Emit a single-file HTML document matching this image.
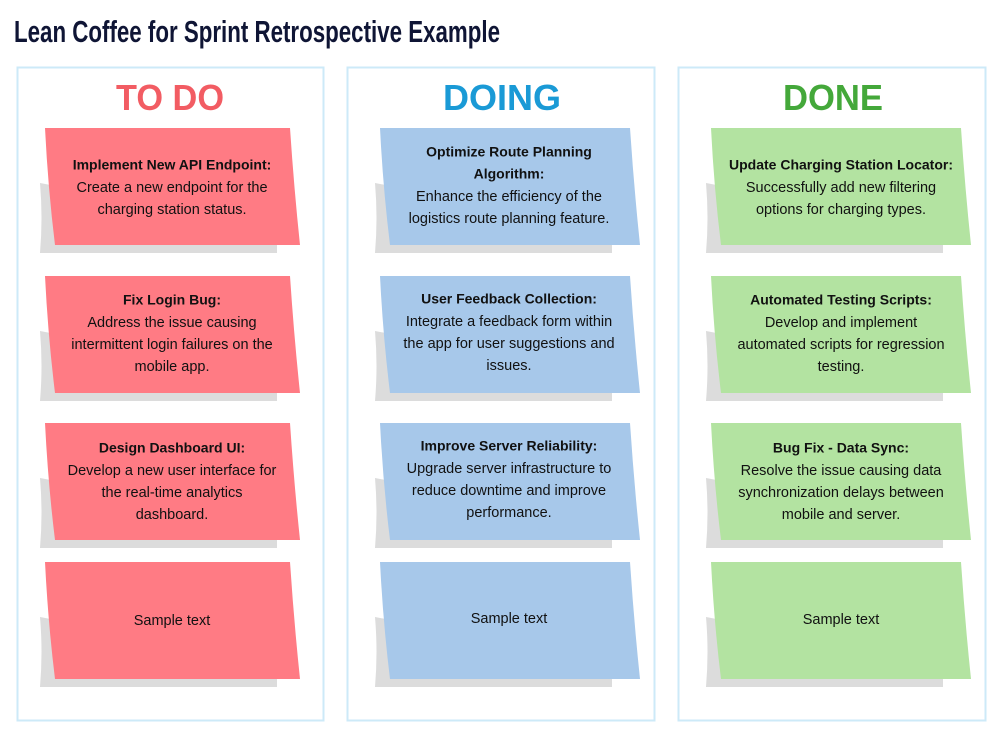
<!DOCTYPE html>
<html><head><meta charset="utf-8"><style>
html,body{margin:0;padding:0;background:#fff}
svg{display:block}
text{font-family:"Liberation Sans",sans-serif}
</style></head><body>
<svg width="1004" height="735" viewBox="0 0 1004 735" xmlns="http://www.w3.org/2000/svg">
<defs>
<g id="shadow"><path d="M-5,55 Q-2,90 -5,125 L232,125 L232,100 Z" fill="#dcdcdc"/></g>
</defs>
<text x="14" y="42" font-size="31" font-weight="bold" fill="#0f1535" textLength="486" lengthAdjust="spacingAndGlyphs">Lean Coffee for Sprint Retrospective Example</text>
<rect x="17.5" y="67.5" width="306" height="653" fill="none" stroke="#cdeaf8" stroke-width="2"/>
<rect x="347.5" y="67.5" width="307" height="653" fill="none" stroke="#cdeaf8" stroke-width="2"/>
<rect x="678.5" y="67.5" width="307" height="653" fill="none" stroke="#cdeaf8" stroke-width="2"/>
<text x="170" y="110" font-size="36" font-weight="bold" fill="#f25c63" text-anchor="middle" textLength="108" lengthAdjust="spacingAndGlyphs">TO DO</text>
<text x="502" y="110" font-size="36" font-weight="bold" fill="#1a9ad6" text-anchor="middle" textLength="118" lengthAdjust="spacingAndGlyphs">DOING</text>
<text x="833" y="110" font-size="36" font-weight="bold" fill="#44a83a" text-anchor="middle" textLength="100" lengthAdjust="spacingAndGlyphs">DONE</text>

<g id="notes">
</g>
<!-- column 1 -->
<g fill="#ff7b84">
<g transform="translate(45,128)"><use href="#shadow"/><path d="M0,0 L245,0 Q249,60 255,117 L10,117 Q3,60 0,0 Z"/></g>
<g transform="translate(45,276)"><use href="#shadow"/><path d="M0,0 L245,0 Q249,60 255,117 L10,117 Q3,60 0,0 Z"/></g>
<g transform="translate(45,423)"><use href="#shadow"/><path d="M0,0 L245,0 Q249,60 255,117 L10,117 Q3,60 0,0 Z"/></g>
<g transform="translate(45,562)"><use href="#shadow"/><path d="M0,0 L245,0 Q249,60 255,117 L10,117 Q3,60 0,0 Z"/></g>
</g>
<g fill="#a7c8ea">
<g transform="translate(380,128)"><use href="#shadow"/><path d="M0,0 L250,0 Q254,60 260,117 L10,117 Q3,60 0,0 Z"/></g>
<g transform="translate(380,276)"><use href="#shadow"/><path d="M0,0 L250,0 Q254,60 260,117 L10,117 Q3,60 0,0 Z"/></g>
<g transform="translate(380,423)"><use href="#shadow"/><path d="M0,0 L250,0 Q254,60 260,117 L10,117 Q3,60 0,0 Z"/></g>
<g transform="translate(380,562)"><use href="#shadow"/><path d="M0,0 L250,0 Q254,60 260,117 L10,117 Q3,60 0,0 Z"/></g>
</g>
<g fill="#b3e3a1">
<g transform="translate(711,128)"><use href="#shadow"/><path d="M0,0 L250,0 Q254,60 260,117 L10,117 Q3,60 0,0 Z"/></g>
<g transform="translate(711,276)"><use href="#shadow"/><path d="M0,0 L250,0 Q254,60 260,117 L10,117 Q3,60 0,0 Z"/></g>
<g transform="translate(711,423)"><use href="#shadow"/><path d="M0,0 L250,0 Q254,60 260,117 L10,117 Q3,60 0,0 Z"/></g>
<g transform="translate(711,562)"><use href="#shadow"/><path d="M0,0 L250,0 Q254,60 260,117 L10,117 Q3,60 0,0 Z"/></g>
</g>

<g font-size="14.5" fill="#111" text-anchor="middle" dominant-baseline="middle">
<text x="172" y="166" font-weight="bold" font-size="14">Implement New API Endpoint:</text>
<text x="172" y="188">Create a new endpoint for the</text>
<text x="172" y="210">charging station status.</text>
<text x="172" y="301" font-weight="bold" font-size="14">Fix Login Bug:</text>
<text x="172" y="323">Address the issue causing</text>
<text x="172" y="345">intermittent login failures on the</text>
<text x="172" y="367">mobile app.</text>
<text x="172" y="449" font-weight="bold" font-size="14">Design Dashboard UI:</text>
<text x="172" y="471">Develop a new user interface for</text>
<text x="172" y="493">the real-time analytics</text>
<text x="172" y="515">dashboard.</text>
<text x="172" y="621">Sample text</text>

<text x="509" y="153" font-weight="bold" font-size="14">Optimize Route Planning</text>
<text x="509" y="175" font-weight="bold" font-size="14">Algorithm:</text>
<text x="509" y="197">Enhance the efficiency of the</text>
<text x="509" y="219">logistics route planning feature.</text>
<text x="509" y="300" font-weight="bold" font-size="14">User Feedback Collection:</text>
<text x="509" y="322">Integrate a feedback form within</text>
<text x="509" y="344">the app for user suggestions and</text>
<text x="509" y="366">issues.</text>
<text x="509" y="447" font-weight="bold" font-size="14">Improve Server Reliability:</text>
<text x="509" y="469">Upgrade server infrastructure to</text>
<text x="509" y="491">reduce downtime and improve</text>
<text x="509" y="513">performance.</text>
<text x="509" y="619">Sample text</text>

<text x="841" y="166" font-weight="bold" font-size="14">Update Charging Station Locator:</text>
<text x="841" y="188">Successfully add new filtering</text>
<text x="841" y="210">options for charging types.</text>
<text x="841" y="301" font-weight="bold" font-size="14">Automated Testing Scripts:</text>
<text x="841" y="323">Develop and implement</text>
<text x="841" y="345">automated scripts for regression</text>
<text x="841" y="367">testing.</text>
<text x="841" y="449" font-weight="bold" font-size="14">Bug Fix - Data Sync:</text>
<text x="841" y="471">Resolve the issue causing data</text>
<text x="841" y="493">synchronization delays between</text>
<text x="841" y="515">mobile and server.</text>
<text x="841" y="620">Sample text</text>
</g>
</svg>
</body></html>
